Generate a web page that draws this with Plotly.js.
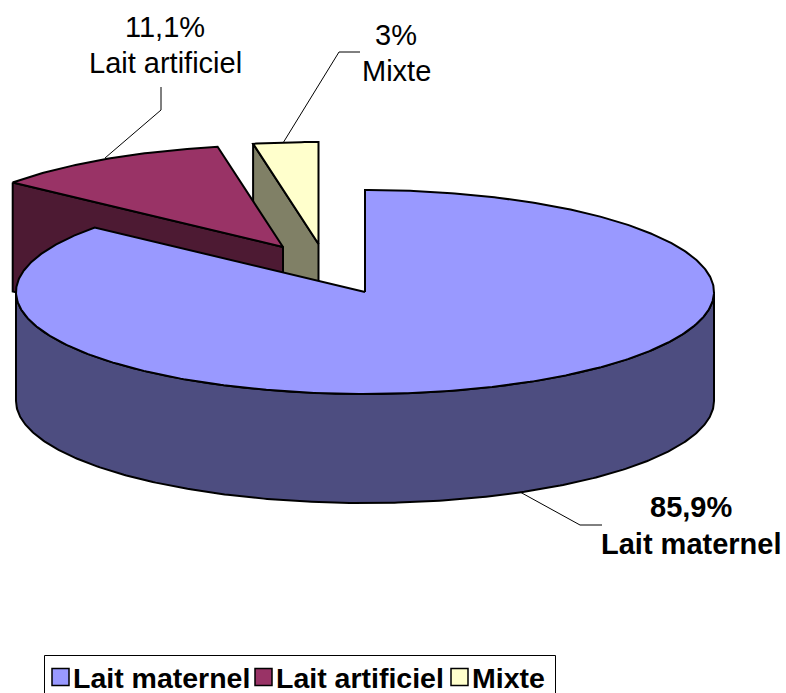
<!DOCTYPE html>
<html>
<head>
<meta charset="utf-8">
<script src="https://cdn.plot.ly/plotly-3.0.1.min.js"></script>
<style>html,body{margin:0;padding:0;background:#fff}#chart{width:786px;height:693px}</style>
</head>
<body>
<div id="chart"></div>
<script>
// Répartition du mode d'allaitement
const categories = ["Lait maternel", "Lait artificiel", "Mixte"];
const shares = [85.9, 11.1, 3];
const shareLabels = ["85,9%", "11,1%", "3%"];
const topColors = ["#9999FF", "#993366", "#FFFFCC"];
const sideColors = ["#4D4D80", "#4D1A33", "#808066"];

// Pie geometry, in plot units (the axes map 1 unit to 1 pixel)
const centre = {x: 365, y: 292};
const radiusX = 349, radiusY = 102, depth = 109;
const explode = [{x: 0, y: 0}, {x: -82, y: -45}, {x: -46.5, y: -48}];

// Turn each share into a start/end angle, clockwise from 12 o'clock
const angles = [];
shares.reduce((start, v) => {
  const end = start + v / 100 * 2 * Math.PI;
  angles.push([start, end]);
  return end;
}, 0);

function rim(cx, cy, a) {
  return [cx + radiusX * Math.sin(a), cy - radiusY * Math.cos(a)];
}
function arc(cx, cy, a0, a1) {
  const n = Math.max(2, Math.ceil(Math.abs(a1 - a0) / 0.01));
  const pts = [];
  for (let i = 0; i <= n; i++) pts.push(rim(cx, cy, a0 + (a1 - a0) * i / n));
  return pts;
}
function poly(pts, color, name) {
  const closed = pts.concat([pts[0]]);
  return {
    type: "scatter", mode: "lines", name: name,
    x: closed.map(p => p[0]), y: closed.map(p => p[1]),
    fill: "toself", fillcolor: color,
    line: {color: "#000", width: 2, shape: "linear"},
    hoverinfo: "name", showlegend: false
  };
}

const traces = [];
// Back slices first so the large slice overlaps them: Mixte, then Lait artificiel
[2, 1].forEach(i => {
  const cx = centre.x + explode[i].x, cy = centre.y + explode[i].y;
  const p0 = rim(cx, cy, angles[i][0]);
  // The cut face running from the left rim to the apex, seen from the front
  traces.push(poly([p0, [cx, cy], [cx, cy + depth], [p0[0], p0[1] + depth]], sideColors[i], categories[i]));
  traces.push(poly([[cx, cy]].concat(arc(cx, cy, angles[i][0], angles[i][1])), topColors[i], categories[i]));
});
// Large slice: front wall along the lower half of the ellipse, then the top face
const front = arc(centre.x, centre.y, Math.PI / 2, 3 * Math.PI / 2);
const wall = front.concat(front.slice().reverse().map(p => [p[0], p[1] + depth]));
traces.push(poly(wall, sideColors[0], categories[0]));
traces.push(poly([[centre.x, centre.y]].concat(arc(centre.x, centre.y, angles[0][0], angles[0][1])), topColors[0], categories[0]));

// Leader lines from the labels to their slices
const leaders = [
  {x: [520, 580, 602], y: [492, 525, 525]},
  {x: [161, 161, 105], y: [87, 110, 158]},
  {x: [360, 339, 283], y: [52, 52, 143]}
];
leaders.forEach(l => traces.push({
  type: "scatter", mode: "lines", x: l.x, y: l.y,
  line: {color: "#000", width: 1}, hoverinfo: "skip", showlegend: false
}));

const font = "Liberation Sans, Arial, sans-serif";
const labelPos = [{x: 691, y: 507, dy: 37, bold: true}, {x: 165, y: 27, dy: 36, bold: false}, {x: 396, y: 35, dy: 36, bold: false}];
const annotations = [];
labelPos.forEach((p, i) => {
  [shareLabels[i], categories[i]].forEach((t, k) => annotations.push({
    xref: "x", yref: "y", x: p.x, y: p.y + k * p.dy, text: p.bold ? "<b>" + t + "</b>" : t,
    showarrow: false, xanchor: "center", yanchor: "middle",
    font: {family: font, size: 29, color: "#000"}
  }));
});

// Legend strip along the bottom edge
const legendX = [52, 255, 451];
const legendY = 677;
const shapes = [{type: "rect", xref: "x", yref: "y", x0: 44.5, x1: 555.5, y0: 655.5, y1: 700,
  line: {color: "#000", width: 1}, fillcolor: "#fff", layer: "below"}];
categories.forEach((c, i) => {
  shapes.push({type: "rect", xref: "x", yref: "y", x0: legendX[i], x1: legendX[i] + 17,
    y0: legendY - 8.5, y1: legendY + 8.5, line: {color: "#000", width: 1.5}, fillcolor: topColors[i]});
  annotations.push({xref: "x", yref: "y", x: legendX[i] + 19, y: legendY + 1, text: "<b>" + c + "</b>",
    showarrow: false, xanchor: "left", yanchor: "middle",
    font: {family: font, size: 28.5, color: "#000"}});
});

const hidden = {visible: false, fixedrange: true, autorange: false};
Plotly.newPlot("chart", traces, {
  width: 786, height: 693,
  margin: {l: 0, r: 0, t: 0, b: 0},
  paper_bgcolor: "#fff", plot_bgcolor: "#fff",
  xaxis: Object.assign({range: [0, 786]}, hidden),
  yaxis: Object.assign({range: [693, 0]}, hidden),
  showlegend: false, shapes: shapes, annotations: annotations
}, {displayModeBar: false, staticPlot: true});
</script>
</body>
</html>
